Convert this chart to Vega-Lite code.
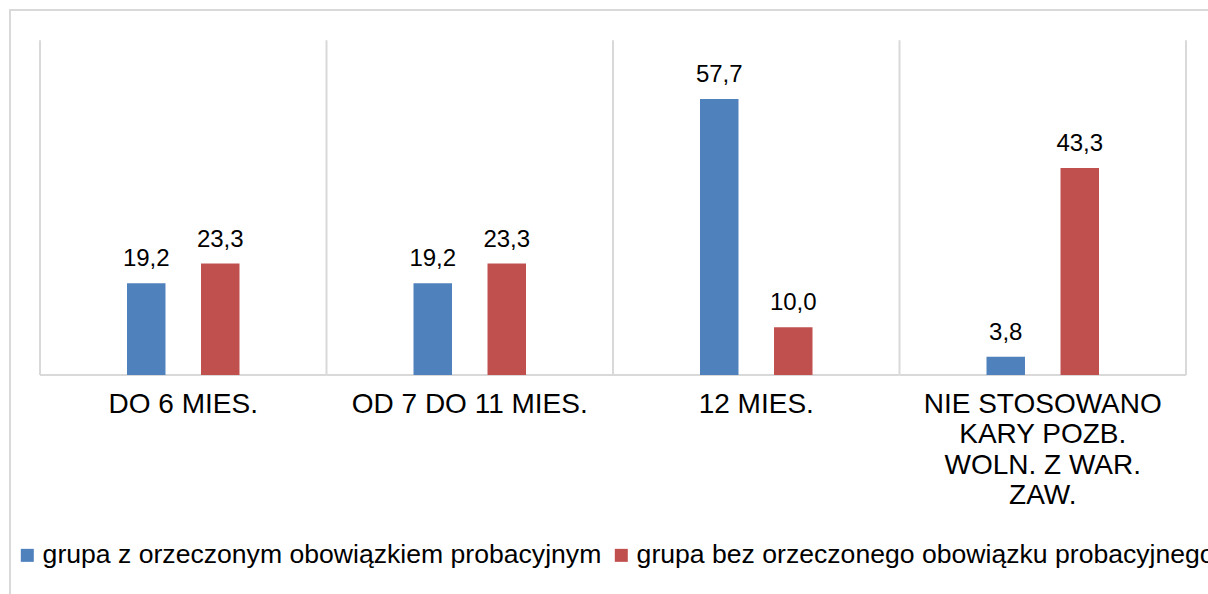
{
  "$schema": "https://vega.github.io/schema/vega-lite/v6.json",
  "width": 1206,
  "height": 600,
  "autosize": {"type": "none"},
  "padding": {"left": 10, "top": 10, "right": 0, "bottom": 0},
  "config": {
    "view": {"stroke": "#d9d9d9", "strokeWidth": 2},
    "font": "Liberation Sans",
    "locale": {"number": {"decimal": ",", "thousands": " ", "grouping": [3], "currency": ["", " zł"]}}
  },
  "datasets": {
    "bars": [
      {"kategoria": "DO 6 MIES.", "grupa": "grupa z orzeczonym obowiązkiem probacyjnym", "wartosc": 19.2},
      {"kategoria": "DO 6 MIES.", "grupa": "grupa bez orzeczonego obowiązku probacyjnego", "wartosc": 23.3},
      {"kategoria": "OD 7 DO 11 MIES.", "grupa": "grupa z orzeczonym obowiązkiem probacyjnym", "wartosc": 19.2},
      {"kategoria": "OD 7 DO 11 MIES.", "grupa": "grupa bez orzeczonego obowiązku probacyjnego", "wartosc": 23.3},
      {"kategoria": "12 MIES.", "grupa": "grupa z orzeczonym obowiązkiem probacyjnym", "wartosc": 57.7},
      {"kategoria": "12 MIES.", "grupa": "grupa bez orzeczonego obowiązku probacyjnego", "wartosc": 10.0},
      {"kategoria": "NIE STOSOWANO KARY POZB. WOLN. Z WAR. ZAW.", "grupa": "grupa z orzeczonym obowiązkiem probacyjnym", "wartosc": 3.8},
      {"kategoria": "NIE STOSOWANO KARY POZB. WOLN. Z WAR. ZAW.", "grupa": "grupa bez orzeczonego obowiązku probacyjnego", "wartosc": 43.3}
    ],
    "cats": [
      {"kategoria": "DO 6 MIES."},
      {"kategoria": "OD 7 DO 11 MIES."},
      {"kategoria": "12 MIES."},
      {"kategoria": "NIE STOSOWANO KARY POZB. WOLN. Z WAR. ZAW."}
    ]
  },
  "layer": [
    {
      "data": {"name": "cats"},
      "mark": {"type": "rule", "stroke": "#d9d9d9", "strokeWidth": 2},
      "encoding": {
        "x": {"field": "kategoria", "type": "nominal", "bandPosition": 0,
              "scale": {"domain": ["DO 6 MIES.", "OD 7 DO 11 MIES.", "12 MIES.", "NIE STOSOWANO KARY POZB. WOLN. Z WAR. ZAW."], "paddingInner": 0, "paddingOuter": 0.1047}},
        "y": {"datum": 0, "type": "quantitative", "scale": {"domain": [-49.13, 76.31], "nice": false, "zero": false}, "axis": null},
        "y2": {"datum": 70}
      }
    },
    {
      "data": {"name": "cats"},
      "transform": [{"filter": "datum.kategoria == 'NIE STOSOWANO KARY POZB. WOLN. Z WAR. ZAW.'"}],
      "mark": {"type": "rule", "stroke": "#d9d9d9", "strokeWidth": 2},
      "encoding": {
        "x": {"field": "kategoria", "type": "nominal", "bandPosition": 1},
        "y": {"datum": 0, "type": "quantitative", "scale": {"domain": [-49.13, 76.31], "nice": false, "zero": false}, "axis": null},
        "y2": {"datum": 70}
      }
    },
    {
      "data": {"name": "cats"},
      "mark": {"type": "rect", "fill": null, "stroke": "#d9d9d9", "strokeWidth": 2},
      "encoding": {
        "x": {"field": "kategoria", "type": "nominal"},
        "y": {"datum": 0, "type": "quantitative", "scale": {"domain": [-49.13, 76.31], "nice": false, "zero": false}, "axis": null},
        "y2": {"datum": 0}
      }
    },
    {
      "data": {"name": "bars"},
      "mark": {"type": "bar"},
      "encoding": {
        "x": {"field": "kategoria", "type": "nominal",
              "axis": {"orient": "bottom", "offset": -235, "title": null, "domain": false, "ticks": false, "grid": false,
                       "bandPosition": 0.5, "labelAlign": "center",
                       "labelAngle": 0, "labelFontSize": 28, "labelColor": "#000000", "labelPadding": 29, "labelLimit": 0,
                       "labelLineHeight": 30.6,
                       "labelExpr": "datum.label == 'NIE STOSOWANO KARY POZB. WOLN. Z WAR. ZAW.' ? ['NIE STOSOWANO', 'KARY POZB.', 'WOLN. Z WAR.', 'ZAW.'] : datum.label"}},
        "xOffset": {"field": "grupa", "type": "nominal",
                    "scale": {"domain": ["grupa z orzeczonym obowiązkiem probacyjnym", "grupa bez orzeczonego obowiązku probacyjnego"], "range": [87, 199.5], "paddingInner": 0.48, "paddingOuter": 0}},
        "y": {"field": "wartosc", "type": "quantitative", "scale": {"domain": [-49.13, 76.31], "nice": false, "zero": false}, "axis": null},
        "y2": {"datum": 0},
        "color": {"field": "grupa", "type": "nominal",
                  "scale": {"domain": ["grupa z orzeczonym obowiązkiem probacyjnym", "grupa bez orzeczonego obowiązku probacyjnego"], "range": ["#4F81BD", "#C0504D"]},
                  "legend": {"orient": "none", "legendX": 4, "legendY": 532, "direction": "horizontal", "title": null,
                             "symbolType": "square", "symbolSize": 169, "symbolStrokeWidth": 0, "symbolOpacity": 1,
                             "labelFontSize": 26.6, "labelColor": "#000000", "labelLimit": 0, "labelOffset": 2,
                             "columnPadding": 6, "padding": 0}}
      }
    },
    {
      "data": {"name": "bars"},
      "mark": {"type": "text", "dy": -17, "fontSize": 24, "color": "#000000", "align": "center", "baseline": "alphabetic"},
      "encoding": {
        "x": {"field": "kategoria", "type": "nominal"},
        "xOffset": {"field": "grupa", "type": "nominal"},
        "y": {"field": "wartosc", "type": "quantitative", "scale": {"domain": [-49.13, 76.31], "nice": false, "zero": false}, "axis": null},
        "text": {"field": "wartosc", "type": "quantitative", "format": ".1f"}
      }
    }
  ]
}
